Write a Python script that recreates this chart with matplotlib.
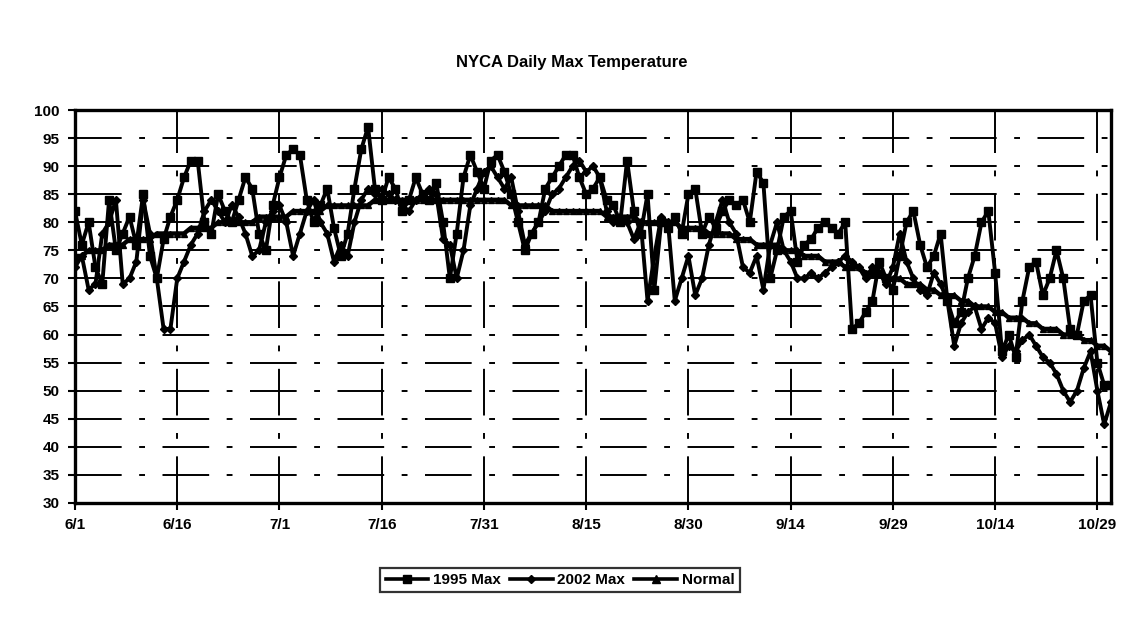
import matplotlib
matplotlib.use("Agg")
import matplotlib.pyplot as plt
from matplotlib.lines import Line2D

plt.rcParams['font.family'] = ['Liberation Sans', 'DejaVu Sans']

tick_labels = ["6/1", "6/16", "7/1", "7/16", "7/31", "8/15", "8/30", "9/14", "9/29", "10/14", "10/29"]

max_1995 = [82, 76, 80, 72, 69, 84, 75, 78, 81, 76, 85, 74, 70, 77, 81,
            84, 88, 91, 91, 80, 78, 85, 82, 80, 84, 88, 86, 78, 75, 83,
            88, 92, 93, 92, 84, 80, 83, 86, 79, 74, 78, 86, 93, 97, 86,
            84, 88, 86, 82, 84, 88, 85, 84, 87, 80, 70, 78, 88, 92, 89,
            86, 91, 92, 89, 85, 80, 75, 78, 80, 86, 88, 90, 92, 92, 88,
            85, 86, 88, 84, 83, 80, 91, 82, 78, 85, 68, 80, 79, 81, 78,
            85, 86, 78, 81, 79, 82, 84, 83, 84, 80, 89, 87, 70, 75, 81,
            82, 73, 76, 77, 79, 80, 79, 78, 80, 61, 62, 64, 66, 73, 70,
            68, 74, 80, 82, 76, 72, 74, 78, 66, 62, 64, 70, 74, 80, 82,
            71, 57, 60, 56, 66, 72, 73, 67, 70, 75, 70, 61, 60, 66, 67,
            55, 51, 51]

max_2002 = [72, 74, 68, 69, 78, 80, 84, 69, 70, 73, 84, 78, 70, 61, 61,
            70, 73, 76, 78, 82, 84, 82, 80, 83, 81, 78, 74, 75, 80, 82,
            83, 80, 74, 78, 82, 84, 80, 78, 73, 76, 74, 80, 84, 86, 85,
            86, 85, 84, 83, 82, 84, 85, 86, 85, 77, 76, 70, 75, 83, 86,
            89, 90, 88, 86, 88, 82, 76, 78, 80, 82, 85, 86, 88, 90, 91,
            89, 90, 88, 82, 80, 81, 80, 77, 80, 66, 74, 81, 80, 66, 70,
            74, 67, 70, 76, 80, 84, 80, 78, 72, 71, 74, 68, 76, 80, 75,
            73, 70, 70, 71, 70, 71, 72, 73, 74, 73, 72, 70, 72, 71, 69,
            72, 78, 73, 70, 68, 67, 71, 69, 66, 58, 62, 64, 65, 61, 63,
            62, 56, 58, 57, 59, 60, 58, 56, 55, 53, 50, 48, 50, 54, 57,
            50, 44, 48]

normal = [74, 74, 75, 75, 75, 76, 76, 76, 77, 77, 77, 77, 78, 78, 78,
          78, 78, 79, 79, 79, 79, 80, 80, 80, 80, 80, 80, 81, 81, 81,
          81, 81, 82, 82, 82, 82, 82, 83, 83, 83, 83, 83, 83, 83, 84,
          84, 84, 84, 84, 84, 84, 84, 84, 84, 84, 84, 84, 84, 84, 84,
          84, 84, 84, 84, 83, 83, 83, 83, 83, 83, 82, 82, 82, 82, 82,
          82, 82, 82, 81, 81, 81, 81, 81, 80, 80, 80, 80, 80, 80, 79,
          79, 79, 79, 78, 78, 78, 78, 77, 77, 77, 76, 76, 76, 76, 75,
          75, 75, 74, 74, 74, 73, 73, 73, 72, 72, 72, 71, 71, 71, 70,
          70, 70, 69, 69, 69, 68, 68, 67, 67, 67, 66, 66, 65, 65, 65,
          64, 64, 63, 63, 63, 62, 62, 61, 61, 61, 60, 60, 60, 59, 59,
          58, 58, 57]

days = list(range(len(normal)))
tick_pos = [i * 15 for i in range(len(tick_labels))]

fig = plt.figure(figsize=(11.43, 6.33), dpi=100)
ax = fig.add_axes([75 / 1143, 1 - 503 / 633, (1111 - 75) / 1143, (503 - 110) / 633])

ax.plot(days, normal, color='black', lw=3.2, marker='^', ms=5, zorder=3)
ax.plot(days, max_2002, color='black', lw=2.8, marker='D', ms=4.5, zorder=4)
ax.plot(days, max_1995, color='black', lw=2.8, marker='s', ms=5.5, zorder=5)

ax.set_xlim(0, 152)
ax.set_ylim(30, 100)
ax.set_yticks(range(30, 101, 5))
ax.set_xticks(tick_pos)
ax.set_xticklabels(tick_labels)
for lab in ax.get_xticklabels() + ax.get_yticklabels():
    lab.set_fontweight('bold')
    lab.set_fontsize(11)
ax.tick_params(axis='both', length=5, width=1.5, direction='out', pad=6)

ax.grid(True, color='black', lw=1.4, linestyle=(0, (24, 9, 3, 9)))
for s in ax.spines.values():
    s.set_linewidth(2.4)

fig.text(0.5, 1 - 62 / 633, 'NYCA Daily Max Temperature', ha='center', va='center',
         fontsize=12, fontweight='bold')

handles = [Line2D([], [], color='black', lw=2.6, marker='s', ms=6),
           Line2D([], [], color='black', lw=2.6, marker='D', ms=4.5),
           Line2D([], [], color='black', lw=2.6, marker='^', ms=5.5)]
leg = fig.legend(handles, ['1995 Max', '2002 Max', 'Normal'], loc='center',
                 bbox_to_anchor=(0.49, 1 - 580 / 633), ncol=3, frameon=True,
                 fancybox=False, edgecolor='black', handlelength=2.8,
                 columnspacing=0.6, handletextpad=0.3, borderpad=0.35,
                 prop={'weight': 'bold', 'size': 11})
leg.get_frame().set_linewidth(1.6)

fig.savefig('out.png', dpi=100)
